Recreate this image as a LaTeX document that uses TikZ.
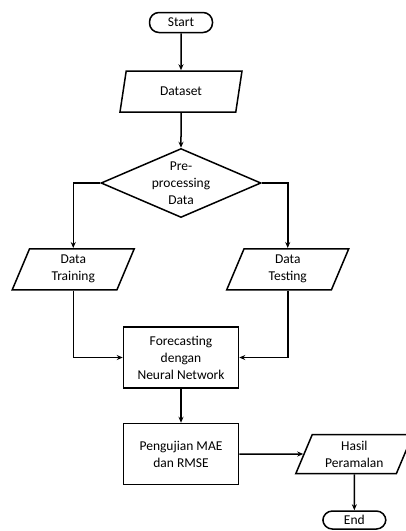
\documentclass[tikz,border=0pt]{standalone}
\usepackage{fontspec}
\setmainfont{Carlito}
\usetikzlibrary{arrows.meta,positioning,shapes.geometric,calc}

\begin{document}
\begin{tikzpicture}[
	x=1pt,y=-1pt,
	>={Stealth[length=6pt,width=5pt]},
	line width=1.5pt,
	font=\fontsize{13.5}{17}\selectfont,
	term/.style={
		draw,
		rounded corners=9.5pt,
		minimum width=63pt,
		minimum height=20pt,
		inner sep=1pt
	},
	io/.style={
		draw,
		trapezium,
		trapezium left angle=60,
		trapezium right angle=120,
		trapezium stretches body,
		minimum width=122pt,
		minimum height=41pt,
		inner sep=1pt,
		align=center
	},
	proc/.style={
		draw,
		minimum width=115pt,
		minimum height=61pt,
		inner sep=1pt,
		align=center
	},
	dec/.style={
		draw,
		diamond,
		aspect=2.3,
		minimum width=160pt,
		minimum height=69pt,
		inner sep=0pt,
		align=center
	},
	flow/.style={->}
	]
	\useasboundingbox (0,0) rectangle (406,531);
	\node[term] (start) at (181,22.5) {Start};
	\node[io,below=37pt of start] (dataset) {Dataset};
	\node[dec,below=35pt of dataset] (prep) {Pre-\\processing\\Data};
	\node[io,below=65pt of prep.west,xshift=-27pt] (train) {Data\\Training};
	\node[io,below=65pt of prep.east,xshift=26pt] (test) {Data\\Testing};
	\node[proc,below=108pt of prep] (nn) {Forecasting\\dengan\\Neural Network};
	\node[proc,below=34pt of nn] (uji) {Pengujian MAE\\dan RMSE};
	\node[io,minimum width=117pt,minimum height=39pt,right=64pt of uji] (hasil) {Hasil\\Peramalan};
	\node[term,minimum height=18pt,below=36pt of hasil] (end) {End};

	% connectors
	\draw[flow] (start) -- (dataset);
	\draw[flow] (dataset) -- (prep);
	\draw[flow] (prep.west) -| (train.north);
	\draw[flow] (prep.east) -| (test.north);
	\draw[flow] (train.south) |- (nn.west);
	\draw[flow] (test.south) |- (nn.east);
	\draw[flow] (nn) -- (uji);
	\draw[flow] (uji) -- (hasil);
	\draw[flow] (hasil) -- (end);
\end{tikzpicture}
\end{document}
